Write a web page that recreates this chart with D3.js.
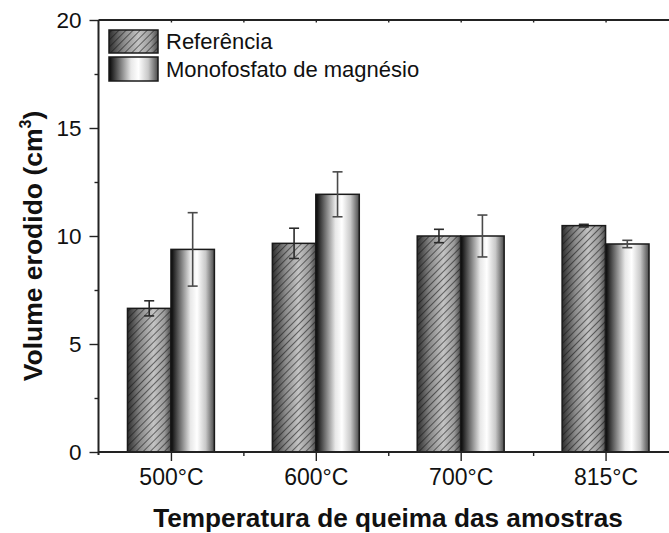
<!DOCTYPE html>
<html>
<head>
<meta charset="utf-8">
<script src="https://cdn.jsdelivr.net/npm/d3@7"></script>
<style>
  html, body { margin: 0; padding: 0; background: #fff; }
  svg { display: block; font-family: "Liberation Sans", Arial, sans-serif; }
</style>
</head>
<body>
<svg id="chart" width="669" height="533"></svg>
<script>
// ---- data ----
const categories = ["500°C", "600°C", "700°C", "815°C"];
const seriesNames = ["Referência", "Monofosfato de magnésio"];
const referencia = [6.65, 9.66, 10.0, 10.48];
const referenciaErr = [0.35, 0.70, 0.31, 0.06];
const monofosfato = [9.38, 11.93, 10.0, 9.63];
const monofosfatoErr = [1.70, 1.04, 0.97, 0.17];
const yTicks = [0, 5, 10, 15, 20];
const yMinorTicks = [2.5, 7.5, 12.5, 17.5];

(function () {
const svg = d3.select("#chart");
const W = 669, H = 533;
const pLeft = 98.5, pTop = 20, pBottom = 452;

const x = d3.scaleLinear().domain([0.5, 4.5]).range([pLeft, 678]);
const y = d3.scaleLinear().domain([0, 20]).range([pBottom, pTop]);
const barW = x(1.3) - x(1);

// ---- defs ----
const defs = svg.append("defs");
const gRef = defs.append("linearGradient").attr("id", "gradRef").attr("x1", 0).attr("x2", 1).attr("y1", 0).attr("y2", 0);
[[0, "#2e2e2e"], [0.3, "#8a8a8a"], [0.6, "#c4c4c4"], [0.85, "#9a9a9a"], [1, "#4a4a4a"]]
  .forEach(([o, c]) => gRef.append("stop").attr("offset", o).attr("stop-color", c));
const gMono = defs.append("linearGradient").attr("id", "gradMono").attr("x1", 0).attr("x2", 1).attr("y1", 0).attr("y2", 0);
[[0, "#050505"], [0.2, "#6a6a6a"], [0.45, "#e8e8e8"], [0.6, "#ffffff"], [0.8, "#c8c8c8"], [1, "#4a4a4a"]]
  .forEach(([o, c]) => gMono.append("stop").attr("offset", o).attr("stop-color", c));
const pat = defs.append("pattern").attr("id", "hatch").attr("patternUnits", "userSpaceOnUse")
  .attr("width", 5).attr("height", 10).attr("patternTransform", "rotate(45)");
pat.append("line").attr("x1", 0).attr("y1", 0).attr("x2", 0).attr("y2", 10)
  .attr("stroke", "#111").attr("stroke-width", 1.1);

// ---- bars ----
const rows = categories.map((c, i) => ({ i: i + 1, ref: referencia[i], refE: referenciaErr[i], mono: monofosfato[i], monoE: monofosfatoErr[i] }));

const gBars = svg.append("g");
gBars.selectAll(".refbg").data(rows).enter().append("rect")
  .attr("x", d => x(d.i) - barW).attr("y", d => y(d.ref))
  .attr("width", barW).attr("height", d => y(0) - y(d.ref))
  .attr("fill", "url(#gradRef)");
gBars.selectAll(".refh").data(rows).enter().append("rect")
  .attr("x", d => x(d.i) - barW).attr("y", d => y(d.ref))
  .attr("width", barW).attr("height", d => y(0) - y(d.ref))
  .attr("fill", "url(#hatch)").attr("stroke", "#1a1a1a").attr("stroke-width", 1.5);
gBars.selectAll(".mono").data(rows).enter().append("rect")
  .attr("x", d => x(d.i)).attr("y", d => y(d.mono))
  .attr("width", barW).attr("height", d => y(0) - y(d.mono))
  .attr("fill", "url(#gradMono)").attr("stroke", "#1a1a1a").attr("stroke-width", 1.5);

// ---- error bars ----
function errBars(cxf, vf, ef, color) {
  const g = svg.append("g").attr("stroke", color).attr("stroke-width", 1.6);
  const capW = 5;
  rows.forEach(d => {
    const cx = cxf(d), v = vf(d), e = ef(d);
    g.append("line").attr("x1", cx).attr("x2", cx).attr("y1", y(v + e)).attr("y2", y(v - e));
    g.append("line").attr("x1", cx - capW).attr("x2", cx + capW).attr("y1", y(v + e)).attr("y2", y(v + e));
    g.append("line").attr("x1", cx - capW).attr("x2", cx + capW).attr("y1", y(v - e)).attr("y2", y(v - e));
  });
}
errBars(d => x(d.i) - barW / 2, d => d.ref, d => d.refE, "#2a2a2a");
errBars(d => x(d.i) + barW / 2, d => d.mono, d => d.monoE, "#4a4a4a");

// ---- axes ----
const axisColor = "#222";
const xAxis = svg.append("g").attr("transform", `translate(0,${pBottom})`)
  .call(d3.axisBottom(x).tickValues([1, 2, 3, 4]).tickSize(9).tickPadding(8)
    .tickFormat(d => categories[d - 1]));
const xMinor = svg.append("g").attr("transform", `translate(0,${pBottom})`)
  .call(d3.axisBottom(x).tickValues([1.5, 2.5, 3.5, 4.5]).tickSize(4).tickFormat(""));
const xTop = svg.append("g").attr("transform", `translate(0,${pTop})`)
  .call(d3.axisTop(x).tickValues(d3.range(1, 4.6, 0.5)).tickSize(-2.5).tickFormat(""));
const yAxis = svg.append("g").attr("transform", `translate(${pLeft},0)`)
  .call(d3.axisLeft(y).tickValues(yTicks).tickSize(9).tickPadding(8));
const yMinor = svg.append("g").attr("transform", `translate(${pLeft},0)`)
  .call(d3.axisLeft(y).tickValues(yMinorTicks).tickSize(4).tickFormat(""));

[xAxis, xMinor, xTop, yAxis, yMinor].forEach(g => {
  g.select(".domain").attr("stroke", axisColor).attr("stroke-width", 2);
  g.selectAll(".tick line").attr("stroke", axisColor).attr("stroke-width", 1.4);
  g.selectAll("text").attr("fill", "#111").style("font-family", "'Liberation Sans', Arial, sans-serif");
});
xAxis.selectAll("text").style("font-size", "23px");
yAxis.selectAll("text").style("font-size", "22.5px");
xAxis.select(".domain").attr("d", `M${pLeft},0H${W + 20}`);
xMinor.select(".domain").remove();
xTop.select(".domain").attr("d", `M${pLeft},0H${W + 20}`);
yMinor.select(".domain").remove();
yAxis.select(".domain").attr("d", `M0,${y(20)}V${pBottom + 3}`);

// ---- titles ----
svg.append("text").attr("x", 388).attr("y", 527).attr("text-anchor", "middle")
  .style("font-size", "26.2px").style("font-weight", "bold").attr("fill", "#111")
  .text("Temperatura de queima das amostras");
const yt = svg.append("text").attr("transform", `translate(41.5,246) rotate(-90)`)
  .attr("text-anchor", "middle").style("font-size", "26.5px").style("font-weight", "bold").attr("fill", "#111");
yt.append("tspan").text("Volume erodido (cm");
yt.append("tspan").attr("dy", -11).style("font-size", "16px").text("3");
yt.append("tspan").attr("dy", 11).text(")");

// ---- legend ----
const legend = svg.append("g");
const lx = 109, lw = 49;
const legendRows = [{ y: 30, h: 23, fills: ["url(#gradRef)", "url(#hatch)"] }, { y: 57, h: 24, fills: ["url(#gradMono)"] }];
legendRows.forEach((r, k) => {
  r.fills.forEach((f, j) => {
    legend.append("rect").attr("x", lx).attr("y", r.y).attr("width", lw).attr("height", r.h)
      .attr("fill", f).attr("stroke", j === r.fills.length - 1 ? "#1a1a1a" : "none").attr("stroke-width", 1.5);
  });
  legend.append("text").attr("x", 166).attr("y", r.y + r.h / 2 + 7.8)
    .style("font-size", "22px").attr("fill", "#111").text(seriesNames[k]);
});
})();
</script>
</body>
</html>
